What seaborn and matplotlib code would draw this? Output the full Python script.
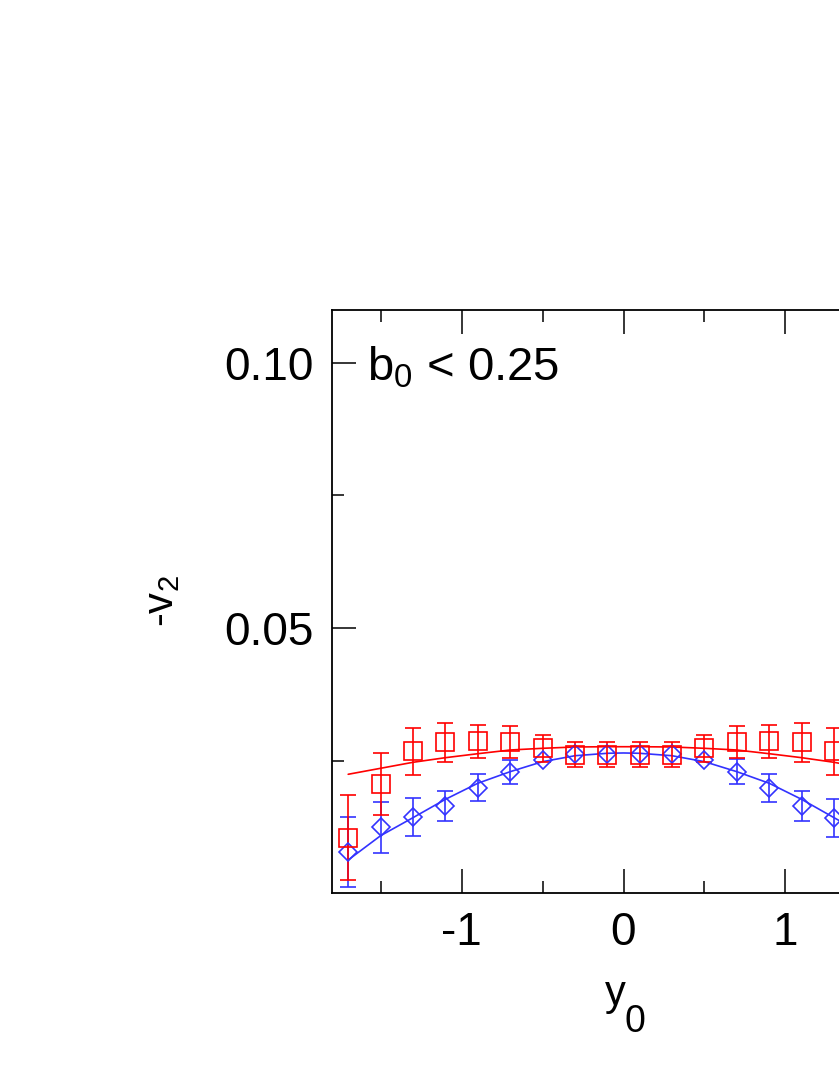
import numpy as np
import pandas as pd
import matplotlib
matplotlib.use("Agg")
import matplotlib.pyplot as plt
import seaborn as sns
from matplotlib.ticker import FixedLocator, FixedFormatter

# ---------------- data ----------------
y0_points = [-1.7, -1.5, -1.3, -1.1, -0.9, -0.7, -0.5, -0.3, -0.1,
             0.1, 0.3, 0.5, 0.7, 0.9, 1.1, 1.3, 1.5, 1.7]
red_v2 = [0.0104, 0.0206, 0.0267, 0.0284, 0.0286, 0.0285, 0.0273, 0.0261, 0.0261,
          0.0261, 0.0261, 0.0273, 0.0285, 0.0286, 0.0284, 0.0267, 0.0206, 0.0104]
red_err = [0.0080, 0.0058, 0.0045, 0.0037, 0.0031, 0.0030, 0.0025, 0.0024, 0.0024,
           0.0024, 0.0024, 0.0025, 0.0030, 0.0031, 0.0037, 0.0045, 0.0058, 0.0080]
blue_v2 = [0.0078, 0.0124, 0.0144, 0.0164, 0.0199, 0.0228, 0.0251, 0.0262, 0.0263,
           0.0263, 0.0262, 0.0251, 0.0229, 0.0198, 0.0164, 0.0141, 0.0124, 0.0078]
blue_err = [0.0066, 0.0048, 0.0036, 0.0029, 0.0026, 0.0023, 0.0, 0.0, 0.0,
            0.0, 0.0, 0.0, 0.0023, 0.0026, 0.0029, 0.0036, 0.0048, 0.0066]

curve_x = [-1.7, -1.5, -1.3, -1.1, -0.9, -0.7, -0.5, -0.3, -0.1, 0.0,
           0.1, 0.3, 0.5, 0.7, 0.9, 1.1, 1.3, 1.5, 1.7]
red_curve = [0.0224, 0.02353, 0.02466, 0.02553, 0.02628, 0.02698, 0.0273, 0.02755, 0.0276, 0.0276,
             0.0276, 0.02755, 0.0273, 0.02698, 0.02628, 0.02553, 0.02466, 0.02353, 0.0224]
blue_curve = [0.00623, 0.01081, 0.01421, 0.01767, 0.0207, 0.02289, 0.02478, 0.0259, 0.02636, 0.02642,
              0.02636, 0.0259, 0.02478, 0.02289, 0.0207, 0.01767, 0.01421, 0.01081, 0.00623]

x_major = [-1, 0, 1]
x_major_labels = ["-1", "0", "1"]
x_minor = [-1.5, -0.5, 0.5, 1.5]
y_major = [0.05, 0.10]
y_major_labels = ["0.05", "0.10"]
y_minor = [0.025, 0.075]

annotation = r"b$_0$ < 0.25"

# ---------------- style ----------------
sns.set_theme(style="ticks")
plt.rcParams["font.family"] = ["Liberation Sans", "DejaVu Sans"]
plt.rcParams["mathtext.fontset"] = "custom"
plt.rcParams["mathtext.rm"] = "Liberation Sans"
plt.rcParams["mathtext.it"] = "Liberation Sans:italic"
plt.rcParams["mathtext.default"] = "regular"
plt.rcParams["text.color"] = "black"
plt.rcParams["axes.labelcolor"] = "black"
plt.rcParams["xtick.color"] = "black"
plt.rcParams["ytick.color"] = "black"
plt.rcParams["axes.edgecolor"] = "black"

RED = "#ff0000"
BLUE = "#3333ff"

W, H = 839, 1086
fig = plt.figure(figsize=(W / 100, H / 100), dpi=100)
# axes: left 332px, top 310px, bottom 893px, square 583px (right edge beyond figure)
ax = fig.add_axes([332 / W, (H - 893) / H, 583 / W, 583 / H])

pts = pd.DataFrame({"y0": y0_points, "red": red_v2, "red_err": red_err,
                    "blue": blue_v2, "blue_err": blue_err})
crv = pd.DataFrame({"y0": curve_x, "red": red_curve, "blue": blue_curve})

# curves
sns.lineplot(data=crv, x="y0", y="blue", ax=ax, color=BLUE, lw=1.2,
             estimator=None, sort=False, zorder=3)
sns.lineplot(data=crv, x="y0", y="red", ax=ax, color=RED, lw=1.2,
             estimator=None, sort=False, zorder=3)

# error bars
be = pts[pts["blue_err"] > 0]
ax.errorbar(be["y0"], be["blue"], yerr=be["blue_err"], fmt="none",
            ecolor=BLUE, elinewidth=1.2, capsize=6, capthick=1.2, zorder=4)
ax.errorbar(pts["y0"], pts["red"], yerr=pts["red_err"], fmt="none",
            ecolor=RED, elinewidth=1.2, capsize=6, capthick=1.2, zorder=5)

# markers
sns.lineplot(data=pts, x="y0", y="blue", ax=ax, linestyle="", marker="D",
             markersize=8.8, markerfacecolor="none", markeredgecolor=BLUE,
             markeredgewidth=1.2, color=BLUE, estimator=None, zorder=6)
sns.lineplot(data=pts, x="y0", y="red", ax=ax, linestyle="", marker="s",
             markersize=12.3, markerfacecolor="none", markeredgecolor=RED,
             markeredgewidth=1.2, color=RED, estimator=None, zorder=7)

ax.set_xlim(-1.8, 1.8)
ax.set_ylim(0.0, 0.11)

ax.xaxis.set_major_locator(FixedLocator(x_major))
ax.xaxis.set_major_formatter(FixedFormatter(x_major_labels))
ax.xaxis.set_minor_locator(FixedLocator(x_minor))
ax.yaxis.set_major_locator(FixedLocator(y_major))
ax.yaxis.set_major_formatter(FixedFormatter(y_major_labels))
ax.yaxis.set_minor_locator(FixedLocator(y_minor))

ax.tick_params(which="both", direction="in", top=True, right=True,
               colors="black", width=1.1)
ax.tick_params(which="major", length=17, labelsize=33, pad=13)
ax.tick_params(which="minor", length=8.5)
for s in ax.spines.values():
    s.set_color("black")
    s.set_linewidth(1.3)

ax.set_facecolor("white")
fig.patch.set_facecolor("white")

# axis labels
ax.set_ylabel("-v$_2$", fontsize=30, va="baseline", color="black")
ax.yaxis.set_label_coords((173 - 332) / 583, 0.5)
ax.set_xlabel("y", fontsize=30, ha="right", va="baseline", color="black")
ax.xaxis.set_label_coords((625.5 - 332) / 583, (893 - 1005) / 583)
ax.text((625 - 332) / 583, (893 - 1032) / 583, "0", transform=ax.transAxes,
        fontsize=27, ha="left", va="baseline", color="black")

ax.text((367 - 332) / 583, (893 - 380) / 583, annotation, transform=ax.transAxes,
        fontsize=34, ha="left", va="baseline", color="black")

fig.savefig("out.png", dpi=100, facecolor="white")
